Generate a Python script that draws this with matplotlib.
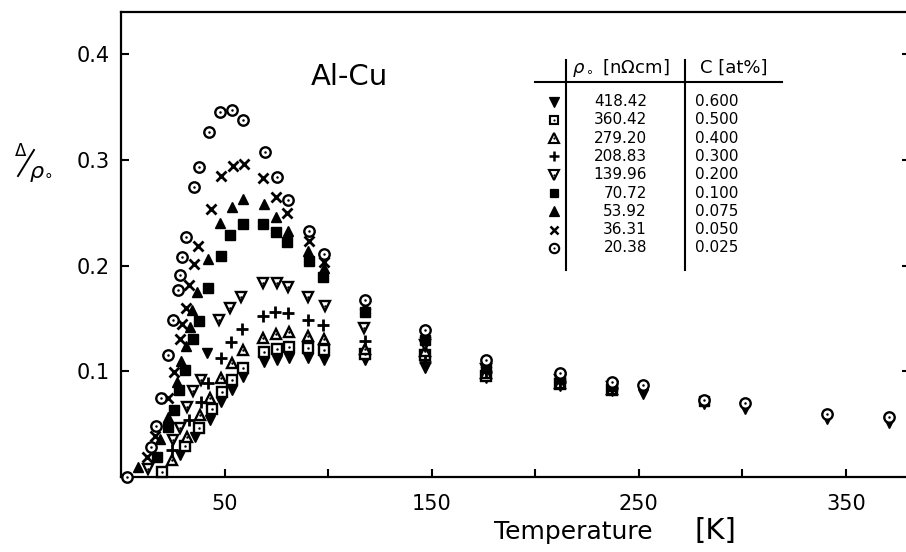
import matplotlib
matplotlib.use("Agg")
import matplotlib.pyplot as plt
from matplotlib.lines import Line2D

# ---------------- data ----------------
T_600 = [28.5, 35.7, 41.4, 43.0, 48.2, 53.5, 58.8, 69.1, 75.2, 81.2, 90.5, 98.2, 117.6, 146.8, 176.1, 211.8, 237.2, 251.9, 281.4, 301.4, 341.0, 370.9]
y_600 = [0.021, 0.038, 0.117, 0.054, 0.071, 0.082, 0.095, 0.109, 0.111, 0.113, 0.113, 0.111, 0.111, 0.103, 0.094, 0.086, 0.081, 0.0785, 0.069, 0.064, 0.055, 0.0515]

T_500 = [19.7, 30.9, 37.7, 43.8, 48.6, 53.5, 58.8, 69.1, 75.2, 81.2, 90.5, 98.2, 117.6, 146.8, 176.1, 211.8, 237.2]
y_500 = [0.005, 0.029, 0.046, 0.064, 0.080, 0.092, 0.103, 0.118, 0.121, 0.123, 0.122, 0.120, 0.116, 0.115, 0.096, 0.088, 0.082]

T_400 = [24.5, 31.7, 38.2, 43.0, 48.3, 53.5, 58.8, 68.7, 74.9, 81.2, 90.5, 98.1, 117.6, 146.8, 176.1, 211.8, 237.2]
y_400 = [0.016, 0.038, 0.059, 0.075, 0.094, 0.108, 0.120, 0.132, 0.135, 0.1375, 0.133, 0.131, 0.121, 0.119, 0.098, 0.089, 0.083]

T_300 = [24.5, 32.9, 38.5, 42.2, 48.2, 53.0, 58.3, 68.5, 74.4, 80.8, 90.5, 97.7, 117.6, 146.8, 176.1, 211.8, 237.2]
y_300 = [0.0255, 0.054, 0.071, 0.089, 0.113, 0.128, 0.140, 0.152, 0.156, 0.155, 0.149, 0.144, 0.129, 0.109, 0.099, 0.090, 0.084]

T_200 = [13.2, 25.3, 28.5, 31.7, 34.9, 38.6, 47.5, 52.7, 58.1, 68.7, 75.2, 80.8, 90.5, 98.6, 117.4, 146.8, 176.1, 211.8, 237.2]
y_200 = [0.008, 0.035, 0.046, 0.0665, 0.0816, 0.092, 0.1485, 0.160, 0.170, 0.1833, 0.1833, 0.180, 0.1706, 0.162, 0.141, 0.125, 0.102, 0.092, 0.085]

T_100 = [17.2, 22.9, 25.7, 28.0, 30.9, 34.9, 37.8, 42.2, 48.2, 52.8, 58.8, 68.5, 75.0, 80.3, 90.6, 97.7, 117.6, 146.8, 176.1, 211.8, 237.2, 281.4]
y_100 = [0.0186, 0.047, 0.063, 0.082, 0.101, 0.131, 0.148, 0.1785, 0.209, 0.229, 0.239, 0.239, 0.232, 0.222, 0.204, 0.1895, 0.156, 0.130, 0.104, 0.094, 0.086, 0.072]

T_075 = [8.1, 18.8, 22.6, 26.9, 29.1, 31.4, 33.3, 34.2, 36.9, 42.2, 47.8, 53.6, 58.9, 68.9, 74.7, 80.7, 90.2, 98.1, 117.6, 146.8, 176.1, 211.8, 237.2]
y_075 = [0.009, 0.036, 0.0565, 0.090, 0.110, 0.124, 0.142, 0.158, 0.175, 0.206, 0.2406, 0.2557, 0.263, 0.258, 0.246, 0.233, 0.214, 0.198, 0.160, 0.133, 0.106, 0.095, 0.087]

T_050 = [12.4, 16.4, 22.9, 25.7, 28.5, 29.3, 31.4, 33.0, 35.3, 37.3, 43.6, 48.3, 54.0, 59.3, 68.6, 75.0, 80.3, 90.8, 98.1, 117.6, 146.8, 176.1, 211.8, 237.2]
y_050 = [0.0186, 0.039, 0.0745, 0.0996, 0.131, 0.1447, 0.1596, 0.1816, 0.2015, 0.2185, 0.254, 0.285, 0.294, 0.296, 0.2826, 0.265, 0.2495, 0.223, 0.203, 0.163, 0.136, 0.108, 0.096, 0.088]

T_025 = [2.8, 14.5, 16.8, 19.3, 22.9, 25.3, 27.7, 28.5, 29.3, 31.4, 35.4, 37.7, 42.7, 47.8, 53.5, 59.1, 69.6, 75.2, 80.5, 91.0, 98.1, 117.6, 146.8, 176.1, 211.8, 237.2, 251.9, 281.4, 301.4, 341.0, 370.9]
y_025 = [0.0, 0.0287, 0.0483, 0.0745, 0.1154, 0.149, 0.177, 0.191, 0.208, 0.227, 0.2746, 0.293, 0.326, 0.3456, 0.347, 0.338, 0.3075, 0.284, 0.262, 0.233, 0.2107, 0.1675, 0.139, 0.111, 0.098, 0.090, 0.087, 0.073, 0.0697, 0.060, 0.057]

rho0_labels = ["418.42", "360.42", "279.20", "208.83", "139.96", "70.72", "53.92", "36.31", "20.38"]
conc_labels = ["0.600", "0.500", "0.400", "0.300", "0.200", "0.100", "0.075", "0.050", "0.025"]

x_ticks = [50, 100, 150, 200, 250, 300, 350]
x_ticklabels = ["50", "", "150", "", "250", "", "350"]
y_ticks = [0.1, 0.2, 0.3, 0.4]
y_ticklabels = ["0.1", "0.2", "0.3", "0.4"]

# ---------------- styles ----------------
K = "black"
styles = [
    dict(marker="v", ms=7.5, mfc=K, mec=K, mew=1.0, dot=False),
    dict(marker="s", ms=6.8, mfc="white", mec=K, mew=1.7, dot=True),
    dict(marker="^", ms=7.5, mfc="white", mec=K, mew=1.7, dot=True),
    dict(marker="+", ms=8.0, mfc=K, mec=K, mew=2.0, dot=False),
    dict(marker="v", ms=7.5, mfc="white", mec=K, mew=1.7, dot=True),
    dict(marker="s", ms=7.0, mfc=K, mec=K, mew=1.0, dot=False),
    dict(marker="^", ms=7.5, mfc=K, mec=K, mew=1.0, dot=False),
    dict(marker="x", ms=6.5, mfc=K, mec=K, mew=2.0, dot=False),
    dict(marker="o", ms=7.5, mfc="white", mec=K, mew=1.7, dot=True),
]
series = [(T_600, y_600), (T_500, y_500), (T_400, y_400), (T_300, y_300),
          (T_200, y_200), (T_100, y_100), (T_075, y_075), (T_050, y_050),
          (T_025, y_025)]

W, H = 906, 552
fig = plt.figure(figsize=(W / 100, H / 100), dpi=100)
ax = fig.add_axes([121 / W, 1 - 477 / H, (910 - 121) / W, (477 - 12) / H])

for (T, y), st in zip(series, styles):
    ax.plot(T, y, linestyle="none", marker=st["marker"], ms=st["ms"],
            mfc=st["mfc"], mec=st["mec"], mew=st["mew"], clip_on=False, zorder=3)
    if st["dot"]:
        ax.plot(T, y, linestyle="none", marker="o", ms=1.8, mfc=K, mec=K,
                mew=0, clip_on=False, zorder=3)

ax.set_xlim(0, 381)
ax.set_ylim(0, 0.44)
ax.set_xticks(x_ticks)
ax.set_xticklabels(x_ticklabels)
ax.set_yticks(y_ticks)
ax.set_yticklabels(y_ticklabels)
ax.tick_params(direction="in", length=6, width=1.5, labelsize=15, color=K)
ax.tick_params(axis="x", pad=12)
ax.tick_params(axis="y", pad=8, right=True)
for s in ax.spines.values():
    s.set_linewidth(1.6)

def fx(px):
    return px / W

def fy(py):
    return 1 - py / H

ax.text(0.24, 0.86, "Al-Cu", transform=ax.transAxes, fontsize=21,
        ha="left", va="center")

# axis labels
fig.text(fx(573), fy(532), "Temperature", fontsize=18, ha="center", va="center")
fig.text(fx(715), fy(531), "[K]", fontsize=21, ha="center", va="center")
# y label: Delta / rho_o drawn as a slanted fraction
fig.text(fx(21), fy(151), "Δ", fontsize=12, ha="center", va="center")
fig.add_artist(Line2D([fx(18), fx(34)], [fy(176), fy(150)], color=K, lw=1.4))
fig.text(fx(41), fy(174), r"$\rho_{\circ}$", fontsize=16, ha="center", va="center")

# table
fig.add_artist(Line2D([fx(566), fx(566)], [fy(60), fy(270)], color=K, lw=1.5))
fig.add_artist(Line2D([fx(685), fx(685)], [fy(60), fy(270)], color=K, lw=1.5))
fig.add_artist(Line2D([fx(535), fx(782)], [fy(82), fy(82)], color=K, lw=1.5))
fig.text(fx(621), fy(68), r"$\rho_\circ$ [nΩcm]", fontsize=13, ha="center", va="center")
fig.text(fx(734), fy(68), "C [at%]", fontsize=13, ha="center", va="center")
row_y = [101.5, 119.8, 138.1, 156.4, 174.7, 193.0, 211.3, 229.6, 247.9]
for i, st in enumerate(styles):
    yy = fy(row_y[i])
    fig.add_artist(Line2D([fx(554)], [yy], linestyle="none", marker=st["marker"],
                          ms=st["ms"] * 0.9, mfc=st["mfc"], mec=st["mec"], mew=st["mew"] * 0.9))
    if st["dot"]:
        fig.add_artist(Line2D([fx(554)], [yy], linestyle="none", marker="o",
                              ms=1.6, mfc=K, mec=K, mew=0))
    fig.text(fx(647), yy, rho0_labels[i], fontsize=11, ha="right", va="center")
    fig.text(fx(695), yy, conc_labels[i], fontsize=11, ha="left", va="center")

fig.savefig("out.png", dpi=100)
